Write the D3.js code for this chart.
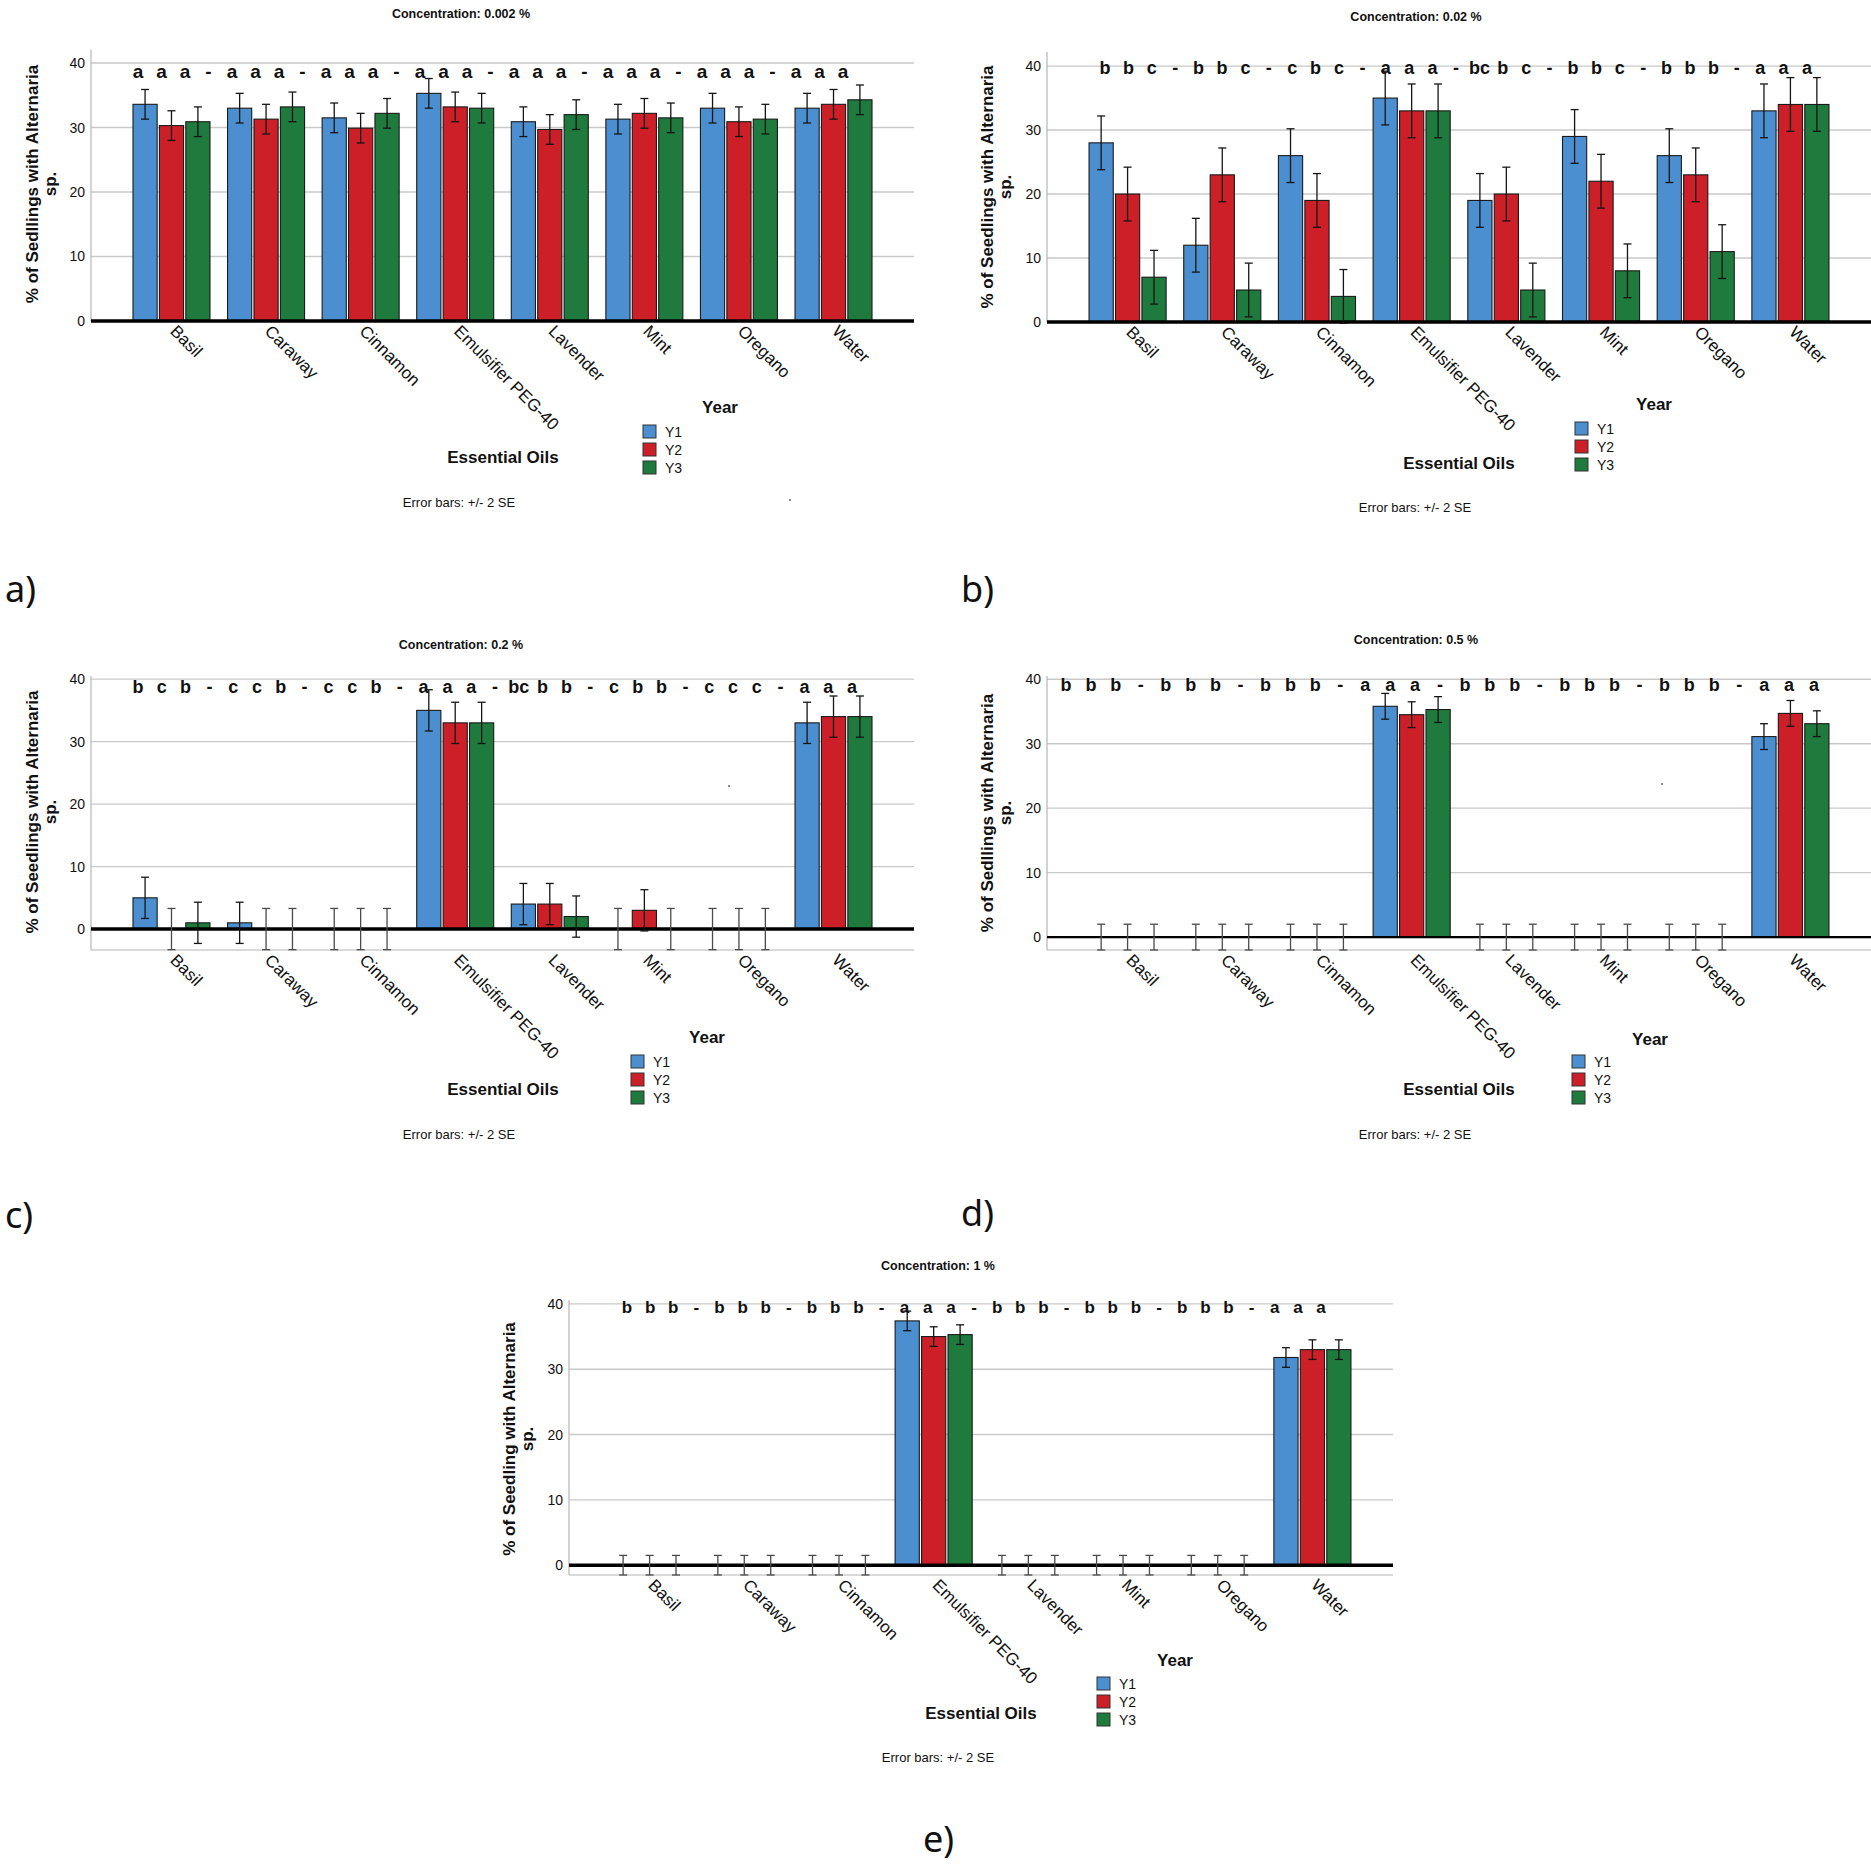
<!DOCTYPE html>
<html><head><meta charset="utf-8">
<script src="https://cdn.jsdelivr.net/npm/d3@7"></script>
<style>
body{margin:0;background:#fff}
svg{display:block}
text{font-family:"Liberation Sans",Arial,Helvetica,sans-serif;fill:#111}
</style>
</head><body>
<svg id="chart" width="1871" height="1865"></svg>
<script>
// ---------------- DATA ----------------
const categories = ["Basil","Caraway","Cinnamon","Emulsifier PEG-40","Lavender","Mint","Oregano","Water"];
const years = ["Y1","Y2","Y3"];
const yTicks = [0,10,20,30,40];

// Concentration 0.002 %
const c002_Y1 = [33.6, 33.0, 31.5, 35.3, 30.9, 31.3, 33.0, 33.0];
const c002_Y2 = [30.3, 31.3, 29.9, 33.2, 29.7, 32.2, 30.9, 33.6];
const c002_Y3 = [30.9, 33.2, 32.2, 33.0, 32.0, 31.5, 31.3, 34.3];
const c002_err = [2.3, 2.3, 2.3, 2.3, 2.3, 2.3, 2.3, 2.3];
const c002_letters = [["a","a","a"],["a","a","a"],["a","a","a"],["a","a","a"],["a","a","a"],["a","a","a"],["a","a","a"],["a","a","a"]];

// Concentration 0.02 %
const c02_Y1 = [28, 12, 26, 35, 19, 29, 26, 33];
const c02_Y2 = [20, 23, 19, 33, 20, 22, 23, 34];
const c02_Y3 = [7, 5, 4, 33, 5, 8, 11, 34];
const c02_err = [4.2, 4.2, 4.2, 4.2, 4.2, 4.2, 4.2, 4.2];
const c02_letters = [["b","b","c"],["b","b","c"],["c","b","c"],["a","a","a"],["bc","b","c"],["b","b","c"],["b","b","b"],["a","a","a"]];

// Concentration 0.2 %
const c2_Y1 = [5, 1, 0, 35, 4, 0, 0, 33];
const c2_Y2 = [0, 0, 0, 33, 4, 3, 0, 34];
const c2_Y3 = [1, 0, 0, 33, 2, 0, 0, 34];
const c2_err = [3.3, 3.3, 3.3, 3.3, 3.3, 3.3, 3.3, 3.3];
const c2_letters = [["b","c","b"],["c","c","b"],["c","c","b"],["a","a","a"],["bc","b","b"],["c","b","b"],["c","c","c"],["a","a","a"]];

// Concentration 0.5 %
const c5_Y1 = [0, 0, 0, 35.8, 0, 0, 0, 31.1];
const c5_Y2 = [0, 0, 0, 34.5, 0, 0, 0, 34.7];
const c5_Y3 = [0, 0, 0, 35.3, 0, 0, 0, 33.1];
const c5_err = [2.0, 2.0, 2.0, 2.0, 2.0, 2.0, 2.0, 2.0];
const c5_letters = [["b","b","b"],["b","b","b"],["b","b","b"],["a","a","a"],["b","b","b"],["b","b","b"],["b","b","b"],["a","a","a"]];

// Concentration 1 %
const c1_Y1 = [0, 0, 0, 37.4, 0, 0, 0, 31.8];
const c1_Y2 = [0, 0, 0, 35.0, 0, 0, 0, 33.0];
const c1_Y3 = [0, 0, 0, 35.3, 0, 0, 0, 33.0];
const c1_err = [1.5, 1.5, 1.5, 1.5, 1.5, 1.5, 1.5, 1.5];
const c1_letters = [["b","b","b"],["b","b","b"],["b","b","b"],["a","a","a"],["b","b","b"],["b","b","b"],["b","b","b"],["a","a","a"]];

const panelTags = ["a)","b)","c)","d)","e)"];
const panelTitles = ["Concentration: 0.002 %","Concentration: 0.02 %","Concentration: 0.2 %","Concentration: 0.5 %","Concentration: 1 %"];
const yTitles = [
  ["% of Sedllings with Alternaria","sp."],
  ["% of Seedlings with Alternaria","sp."],
  ["% of Seedlings with Alternaria","sp."],
  ["% of Sedllings with Alternaria","sp."],
  ["% of Seedling with Alternaria","sp."]
];
const xTitle = "Essential Oils";
const legendTitle = "Year";
const footnote = "Error bars: +/- 2 SE";

// ---------------- STYLE / LAYOUT ----------------
const colors = {Y1:"#4b8fd0", Y2:"#cc1f28", Y3:"#1f7a3d"};

const layouts = [
  {x0:91,  x1:914,  yB:321,  yT:49.5, dom:[0,42.1],   zeroW:3.5, frameB:false,
   title:[461,18], ytitle:[38,184], let:{s:138,e:843,y:78,fs:19},
   year:[720,413], sw:[643,425], eo:[503,463], eb:[459,507], tag:[5,602], dot:[790,500]},
  {x0:1047,x1:1871, yB:322,  yT:52,   dom:[0,42.2],   zeroW:3.5, frameB:false,
   title:[1416,21], ytitle:[993,187], let:{s:1105,e:1807,y:74,fs:18},
   year:[1654,410], sw:[1575,422], eo:[1459,469], eb:[1415,512], tag:[961,602], dot:null},
  {x0:91,  x1:914,  yB:950,  yT:676,  dom:[-3.35,40.5], zeroW:3.5, frameB:true,
   title:[461,649], ytitle:[38,812], let:{s:138,e:852,y:693,fs:18},
   year:[707,1043], sw:[631,1055], eo:[503,1095], eb:[459,1139], tag:[5,1228], dot:[729,786]},
  {x0:1047,x1:1871, yB:950,  yT:676,  dom:[-2.0,40.5], zeroW:2.2, frameB:true,
   title:[1416,644], ytitle:[993,813], let:{s:1066,e:1814,y:691,fs:18},
   year:[1650,1045], sw:[1572,1055], eo:[1459,1095], eb:[1415,1139], tag:[961,1226], dot:[1662,784]},
  {x0:569, x1:1393, yB:1575, yT:1300, dom:[-1.5,40.6], zeroW:3.5, frameB:true,
   title:[938,1270], ytitle:[515,1439], let:{s:627,e:1321,y:1313,fs:17},
   year:[1175,1666], sw:[1097,1677], eo:[981,1719], eb:[938,1762], tag:[923,1852], dot:null}
];

const seriesSets = [
  [c002_Y1,c002_Y2,c002_Y3],
  [c02_Y1,c02_Y2,c02_Y3],
  [c2_Y1,c2_Y2,c2_Y3],
  [c5_Y1,c5_Y2,c5_Y3],
  [c1_Y1,c1_Y2,c1_Y3]
];
const errSets = [c002_err,c02_err,c2_err,c5_err,c1_err];
const letterSets = [c002_letters,c02_letters,c2_letters,c5_letters,c1_letters];

const svg = d3.select("#chart");

layouts.forEach((L, p) => {
  const g = svg.append("g");
  const x = d3.scaleBand().domain(categories).range([L.x0, L.x1]).paddingInner(0.186).paddingOuter(0.444);
  const xi = d3.scaleBand().domain(years).range([0, x.bandwidth()]).paddingInner(0.085);
  const y = d3.scaleLinear().domain(L.dom).range([L.yB, L.yT]);

  // gridlines
  g.append("g").selectAll("line").data(yTicks.filter(t => t > 0)).join("line")
    .attr("x1", L.x0).attr("x2", L.x1)
    .attr("y1", d => y(d)).attr("y2", d => y(d))
    .attr("stroke", "#c9c9c9").attr("stroke-width", 1.4);

  // left axis with tick labels
  const ax = g.append("g").attr("transform", `translate(${L.x0},0)`)
    .call(d3.axisLeft(y).tickValues(yTicks).tickSize(0).tickPadding(6).tickFormat(d3.format("d")));
  ax.select(".domain").remove();
  ax.selectAll("text").attr("font-size", 14).attr("fill", "#222")
    .style("font-family", '"Liberation Sans Narrow","Liberation Sans",Arial,sans-serif');
  g.append("line").attr("x1", L.x0).attr("x2", L.x0).attr("y1", L.yT).attr("y2", L.yB)
    .attr("stroke", "#b5b5b5").attr("stroke-width", 1.2);
  if (L.frameB) {
    g.append("line").attr("x1", L.x0).attr("x2", L.x1).attr("y1", L.yB).attr("y2", L.yB)
      .attr("stroke", "#b5b5b5").attr("stroke-width", 1.2);
  }

  // bars
  const rows = [];
  categories.forEach((c, ci) => years.forEach((yr, yi) => {
    rows.push({cat:c, year:yr, v:seriesSets[p][yi][ci], e:errSets[p][ci]});
  }));
  g.append("g").selectAll("rect").data(rows.filter(d => d.v > 0)).join("rect")
    .attr("x", d => x(d.cat) + xi(d.year))
    .attr("width", xi.bandwidth())
    .attr("y", d => y(d.v))
    .attr("height", d => y(0) - y(d.v))
    .attr("fill", d => colors[d.year])
    .attr("stroke", "#1a1a1a").attr("stroke-width", 1.1);

  // zero line
  g.append("line").attr("x1", L.x0).attr("x2", L.x1).attr("y1", y(0)).attr("y2", y(0))
    .attr("stroke", "#000").attr("stroke-width", L.zeroW);

  // error bars
  const eg = g.append("g").selectAll("g").data(rows).join("g")
    .attr("stroke", d => d.v > 0 ? "#151515" : "#4a4a4a").attr("stroke-width", 1.3);
  const cx = d => x(d.cat) + xi(d.year) + xi.bandwidth() / 2;
  eg.append("line").attr("x1", cx).attr("x2", cx).attr("y1", d => y(d.v + d.e)).attr("y2", d => y(d.v - d.e));
  eg.append("line").attr("x1", d => cx(d) - 4).attr("x2", d => cx(d) + 4).attr("y1", d => y(d.v + d.e)).attr("y2", d => y(d.v + d.e));
  eg.append("line").attr("x1", d => cx(d) - 4).attr("x2", d => cx(d) + 4).attr("y1", d => y(d.v - d.e)).attr("y2", d => y(d.v - d.e));

  // significance letters row (tokens evenly spaced, like a typed string)
  const tokens = [];
  letterSets[p].forEach((grp, gi) => {
    grp.forEach(t => tokens.push(t));
    if (gi < letterSets[p].length - 1) tokens.push("-");
  });
  const tx = d3.scaleLinear().domain([0, tokens.length - 1]).range([L.let.s, L.let.e]);
  g.append("g").selectAll("text").data(tokens).join("text")
    .attr("x", (d, i) => tx(i)).attr("y", L.let.y)
    .attr("text-anchor", "middle").attr("font-weight", "bold").attr("font-size", L.let.fs)
    .text(d => d);

  // category labels
  g.append("g").selectAll("text").data(categories).join("text")
    .attr("transform", d => `translate(${x(d) + x.bandwidth() / 2 + 2},${L.yB + 7}) rotate(45)`)
    .attr("dy", "0.35em").attr("font-size", 17).attr("fill", "#222")
    .text(d => d);

  // y title
  const yt = g.append("text").attr("transform", `translate(${L.ytitle[0]},${L.ytitle[1]}) rotate(-90)`)
    .attr("text-anchor", "middle").attr("font-weight", "bold").attr("font-size", 17);
  yTitles[p].forEach((s, i) => yt.append("tspan").attr("x", 0).attr("dy", i === 0 ? 0 : 18).text(s));

  // chart title
  g.append("text").attr("x", L.title[0]).attr("y", L.title[1]).attr("text-anchor", "middle")
    .attr("font-size", 12.5).attr("font-weight", "bold").text(panelTitles[p]);

  // x title
  g.append("text").attr("x", L.eo[0]).attr("y", L.eo[1]).attr("text-anchor", "middle")
    .attr("font-size", 17).attr("font-weight", "bold").text(xTitle);

  // legend
  g.append("text").attr("x", L.year[0]).attr("y", L.year[1]).attr("text-anchor", "middle")
    .attr("font-size", 17).attr("font-weight", "bold").text(legendTitle);
  const lg = g.append("g").selectAll("g").data(years).join("g")
    .attr("transform", (d, i) => `translate(${L.sw[0]},${L.sw[1] + i * 18})`);
  lg.append("rect").attr("width", 13).attr("height", 13).attr("fill", d => colors[d])
    .attr("stroke", "#333").attr("stroke-width", 1);
  lg.append("text").attr("x", 22).attr("y", 12).attr("font-size", 14).attr("fill", "#222").text(d => d);

  // footnote
  g.append("text").attr("x", L.eb[0]).attr("y", L.eb[1]).attr("text-anchor", "middle")
    .attr("font-size", 13).attr("fill", "#222").text(footnote);

  if (L.dot) g.append("circle").attr("cx", L.dot[0]).attr("cy", L.dot[1]).attr("r", 1).attr("fill", "#666");

  // panel tag
  svg.append("text").attr("x", L.tag[0]).attr("y", L.tag[1]).attr("font-size", 36)
    .style("font-family", '"Noto Sans","Open Sans",sans-serif').text(panelTags[p]);
});
</script>
</body></html>
